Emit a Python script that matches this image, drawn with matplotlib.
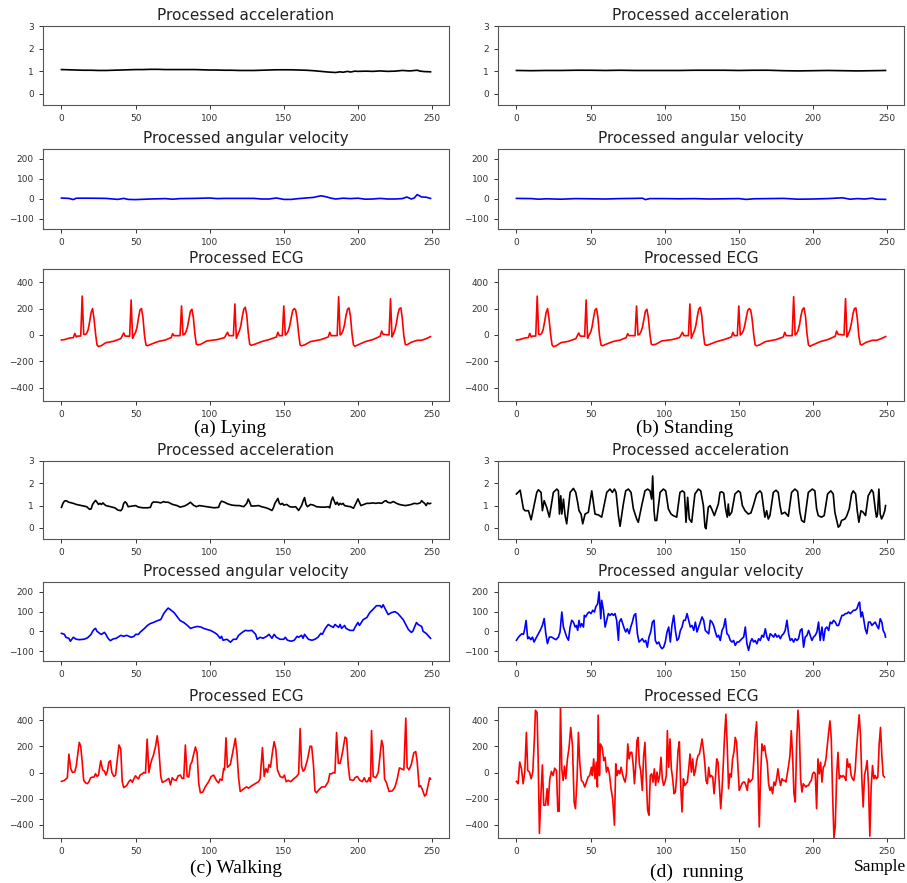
import numpy as np
import matplotlib
matplotlib.use("Agg")
import matplotlib.pyplot as plt

# ---------------- data (sample, value) ----------------
lying_acc = [(0,1.07),(5,1.06),(10,1.05),(15,1.04),(20,1.04),(25,1.03),(30,1.03),(35,1.04),(40,1.05),(45,1.06),
             (50,1.07),(55,1.07),(60,1.08),(65,1.08),(70,1.07),(75,1.07),(80,1.07),(85,1.07),(90,1.07),(95,1.06),
             (100,1.05),(105,1.05),(110,1.04),(115,1.04),(120,1.03),(125,1.03),(130,1.03),(135,1.04),(140,1.05),
             (145,1.06),(150,1.06),(155,1.06),(160,1.05),(165,1.04),(170,1.02),(175,0.99),(180,0.96),(185,0.94),
             (188,0.97),(190,0.95),(193,0.99),(195,0.96),(198,1.0),(200,0.99),(205,1.0),(210,0.99),(215,1.01),
             (220,0.99),(225,1.0),(230,1.03),(235,1.01),(240,1.04),(242,1.0),(245,0.98),(249,0.97)]

lying_gyro = [(0,5),(5,3),(8,-3),(10,4),(20,4),(30,3),(38,-2),(42,3),(45,-2),(50,-3),(60,0),(70,2),(75,-1),(80,2),
              (90,3),(100,5),(105,2),(110,3),(120,3),(130,3),(135,0),(140,0),(145,5),(150,-2),(155,-2),(160,2),
              (165,5),(170,8),(175,16),(178,12),(182,4),(185,0),(190,4),(195,2),(200,4),(205,-1),(210,0),(215,3),
              (220,0),(225,0),(230,2),(233,10),(236,0),(238,5),(240,22),(243,10),(246,9),(249,3)]

rest_ecg = [(0,-38),(2,-35),(4,-28),(6,-22),(8,-20),(9,12),(10,-15),(11,-8),(13,-8),(14,295),(15,5),(16,3),(17,12),
            (18,40),(19,100),(20,170),(21,200),(22,120),(23,10),(24,-75),(25,-88),(27,-80),(30,-58),(35,-48),(40,-28),
            (42,15),(43,-8),(46,-10),(47,265),(48,-25),(49,0),(50,20),(51,60),(52,130),(53,190),(54,200),(55,130),
            (56,0),(57,-75),(58,-82),(60,-72),(65,-50),(70,-38),(74,-20),(75,10),(76,-5),(80,-5),(81,220),(82,0),
            (83,5),(84,25),(85,60),(86,120),(87,180),(88,195),(89,130),(90,10),(91,-70),(92,-75),(94,-70),(98,-45),
            (105,-35),(110,-20),(112,20),(113,-5),(116,-5),(117,235),(118,-25),(119,5),(120,30),(121,70),(122,140),
            (123,195),(124,210),(125,150),(126,20),(127,-70),(128,-78),(130,-72),(135,-50),(140,-35),(145,-15),
            (146,20),(147,-5),(149,-5),(150,220),(151,0),(152,10),(153,30),(154,70),(155,130),(156,185),(157,200),
            (158,190),(159,120),(160,10),(161,-75),(162,-82),(164,-75),(168,-50),(175,-35),(180,-15),(181,20),
            (182,-5),(186,-5),(187,290),(188,0),(189,10),(190,35),(191,80),(192,150),(193,195),(194,205),(195,140),
            (196,10),(197,-75),(198,-85),(200,-75),(205,-50),(210,-35),(215,-10),(216,30),(217,5),(221,0),(222,275),
            (223,-15),(224,10),(225,40),(226,90),(227,160),(228,200),(229,205),(230,120),(231,-10),(232,-72),
            (233,-75),(236,-55),(240,-40),(243,-40),(246,-28),(249,-12)]

stand_acc = [(0,1.03),(10,1.02),(20,1.03),(30,1.03),(40,1.04),(50,1.04),(60,1.03),(70,1.04),(80,1.03),(90,1.03),
             (100,1.03),(110,1.03),(120,1.04),(130,1.04),(140,1.04),(150,1.03),(160,1.04),(170,1.04),(180,1.02),
             (190,1.01),(200,1.02),(210,1.03),(220,1.02),(230,1.01),(240,1.02),(249,1.03)]

stand_gyro = [(0,3),(10,2),(15,-1),(20,1),(30,-1),(40,2),(50,1),(60,0),(70,2),(80,3),(85,4),(87,-3),(90,2),(100,2),
              (110,1),(120,2),(130,0),(140,1),(150,2),(155,-2),(160,1),(170,2),(180,3),(190,-1),(200,0),(210,2),
              (220,6),(225,-1),(230,2),(235,0),(240,4),(243,-1),(249,-2)]

walk_acc = [(0,0.92),(1,1.1),(2,1.2),(3,1.22),(5,1.15),(8,1.1),(10,1.05),(12,1.02),(15,0.98),(17,0.95),(19,0.83),
            (20,0.85),(21,1.05),(22,1.15),(23,1.23),(24,1.15),(25,1.05),(26,1.1),(27,1.05),(28,1.12),(29,1.05),
            (30,1.0),(33,0.95),(36,0.9),(38,0.8),(40,0.77),(41,0.85),(42,1.1),(43,1.17),(44,1.1),(45,0.95),(47,0.97),
            (50,1.0),(52,0.93),(55,0.9),(58,0.9),(60,0.92),(61,1.1),(62,1.16),(65,1.15),(67,1.12),(69,1.18),(70,1.15),
            (72,1.15),(75,1.05),(78,1.0),(80,0.93),(83,0.98),(85,1.05),(87,1.15),(89,1.02),(91,0.95),(93,1.0),
            (95,0.98),(98,0.95),(100,0.93),(103,0.9),(106,0.92),(107,1.1),(108,1.2),(110,1.15),(112,1.08),(115,1.02),
            (118,1.0),(120,1.0),(123,0.95),(125,1.1),(126,1.29),(127,1.15),(128,0.98),(130,0.98),(133,1.0),(135,0.95),
            (138,0.9),(140,0.85),(142,0.78),(143,0.9),(144,1.1),(146,1.32),(147,1.1),(148,1.05),(149,1.1),(150,1.02),
            (152,1.05),(154,0.95),(156,0.93),(158,0.95),(160,0.78),(162,1.0),(163,1.2),(164,1.36),(165,1.05),
            (166,0.95),(168,1.05),(170,1.02),(172,0.95),(175,0.93),(178,0.93),(180,0.95),(181,0.9),(182,1.2),
            (183,1.38),(184,1.2),(185,1.05),(186,1.15),(187,1.02),(188,1.1),(189,1.05),(190,1.1),(191,1.0),
            (193,0.97),(195,0.95),(197,0.88),(199,1.15),(200,1.3),(201,1.15),(202,1.0),(204,1.05),(206,1.1),
            (208,1.1),(210,1.12),(212,1.1),(214,1.12),(216,1.1),(218,1.2),(219,1.22),(220,1.15),(222,1.12),
            (224,1.18),(226,1.1),(228,1.05),(230,1.02),(232,1.0),(234,1.02),(236,1.05),(238,1.1),(240,1.08),
            (242,1.12),(243,1.22),(244,1.15),(245,1.1),(246,1.0),(247,1.12),(248,1.08),(249,1.1)]

walk_gyro = [(0,-10),(2,-15),(3,-30),(5,-35),(6,-50),(7,-40),(8,-30),(9,-35),(10,-40),(12,-42),(15,-40),(17,-35),
             (18,-30),(20,-15),(21,0),(22,10),(23,15),(24,0),(25,-5),(26,-12),(27,-15),(28,-10),(29,-5),(30,-15),
             (31,-30),(32,-40),(33,-47),(35,-38),(37,-35),(40,-20),(42,-25),(44,-20),(47,-30),(49,-25),(50,-15),
             (52,-15),(53,-5),(56,15),(58,30),(60,40),(62,45),(65,55),(67,60),(69,90),(71,110),(72,118),(73.5,110),
             (76,95),(78,75),(80,55),(82.5,45),(85,30),(87,15),(89,20),(91.5,25),(94,22),(96,15),(98,10),(100.5,5),
             (103,-5),(105,-15),(107,-35),(108,-25),(109,-45),(111.7,-40),(114,-55),(116,-40),(118,-40),(119.5,-20),
             (122,-5),(124,5),(126,3),(128.5,5),(131,-15),(132,-40),(134,-30),(136,-35),(138.5,-25),(140,-15),
             (142,-35),(143.5,-15),(145,-30),(147.5,-40),(150,-40),(151,-30),(152.5,-45),(155,-50),(157,-45),
             (159,-25),(160,-30),(162,-20),(163,-35),(164,-15),(166.6,-40),(169,-45),(171,-40),(173,-30),(175,-10),
             (176,-15),(178,15),(180,35),(181,30),(183.4,20),(184.5,35),(187,20),(188,35),(189,15),(191,30),
             (192,15),(194.6,5),(197,5),(198,20),(200,45),(201,30),(203.6,60),(206,70),(208,95),(210,110),
             (212.5,130),(215,130),(216,120),(217,135),(219,105),(220.4,85),(222.6,95),(225,100),(227,90),
             (230.5,60),(234,10),(236,-5),(237,0),(239.5,45),(240.6,35),(243,25),(244,0),(246,-10),(248.4,-30),
             (249,-35)]

walk_ecg = [(0,-68),(2,-60),(4,-40),(5,140),(6.3,30),(7.4,0),(9,5),(10,50),(12,230),(13,200),(14,80),(15,-60),
            (16.4,-80),(17.5,-85),(18.6,-70),(19.7,-40),(21,-35),(22,-35),(23,-10),(24,-30),(25,-20),(26.5,90),
            (27.8,20),(29,10),(30,-20),(31,10),(32,80),(33,90),(34,0),(35.4,-30),(36.5,-20),(37.7,100),(38.8,210),
            (40,180),(41,-70),(42,-115),(44,-100),(45.5,-70),(46.6,-55),(47.8,-75),(49,-45),(50,-25),(51,-40),
            (52,-50),(53,-20),(54.5,-10),(55.6,0),(56.7,-5),(57.8,255),(59,0),(60,60),(61,100),(62,130),(63.5,200),
            (64.6,280),(65.7,180),(67,-30),(68,-75),(70,-65),(72.4,-45),(73.5,-95),(74.7,-40),(75.8,-55),(77.4,-60),
            (78.7,-25),(80.3,-20),(81.4,-45),(82.5,-45),(83.6,210),(84.8,-30),(85.9,-35),(87,60),(88,80),(89.2,140),
            (90.4,195),(91.5,150),(92.6,-80),(93.7,-155),(95.3,-150),(97,-110),(99.3,-70),(101,-30),(102.7,-20),
            (104.5,-60),(106,-80),(107,-50),(108.3,-60),(109.4,30),(110,20),(111,265),(112,40),(113.9,60),
            (115.5,150),(117.3,260),(118.4,150),(119.5,-40),(120.6,-145),(122.4,-130),(124,-115),(125,-110),
            (126.2,-120),(128.5,-100),(130.7,-85),(133,-70),(134,-50),(135.6,190),(136.8,-30),(137.9,30),(139,0),
            (140,60),(141,40),(142.4,160),(143.5,235),(144.6,180),(145.7,20),(147.5,-30),(149.3,-40),(150.4,-20),
            (151.6,-70),(153,-60),(154.7,-70),(156.5,-50),(158.7,-30),(160,-10),(161,335),(162,50),(163,10),
            (164,20),(166,100),(167.7,200),(168.8,200),(170,60),(171,-140),(172,-155),(173.8,-130),(175.6,-110),
            (177.8,-110),(180,-70),(181,-10),(182.3,-10),(183.4,0),(184.5,-5),(185.6,305),(186.8,70),(188,70),
            (189,120),(190,180),(191.3,270),(192.4,260),(193.5,50),(194.6,-55),(197,-60),(198,-40),(199.6,-30),
            (201.3,-60),(203,-70),(204.3,-40),(205.4,-70),(206.5,-70),(207.6,-40),(208.5,-70),(209.2,320),
            (210.3,-30),(212,-40),(213.7,0),(214.8,120),(216,245),(217,200),(218,-50),(219.3,-80),(221,-145),
            (223.3,-140),(225,-110),(226.5,-50),(228,35),(230,25),(231,20),(232.3,415),(233.2,40),(234.5,20),
            (236,60),(237.7,150),(239,160),(240,80),(241.3,-110),(242.2,-100),(243.5,-130),(245,-180),(246,-170),
            (247.3,-100),(248.4,-40),(249,-50)]

run_acc = [(0,1.52),(2.5,1.69),(4.7,0.85),(5.8,0.77),(8.1,0.77),(9.9,0.36),(13.7,1.59),(14.8,1.71),(16.6,1.59),
           (17.5,0.77),(18.7,1.22),(20.4,0.92),(22.2,0.48),(24.9,1.59),(27.2,1.74),(28.3,1.66),(29.0,0.62),
           (29.9,1.44),(30.6,0.62),(31.7,1.29),(32.8,0.55),(33.9,0.18),(36.2,1.59),(38.4,1.77),(40.0,1.59),
           (41.3,1.14),(42.2,0.77),(43.6,0.62),(44.7,0.18),(46.3,0.62),(48.5,0.70),(50.8,1.66),(53.0,0.62),
           (55.3,0.58),(57.5,0.48),(60.9,1.59),(63.1,1.74),(64.7,1.59),(66.1,1.74),(67.2,1.59),(68.8,0.55),
           (69.9,0.07),(72.1,1.07),(73.7,1.66),(75.5,1.74),(77.3,1.59),(78.9,0.85),(81.1,0.40),(82.2,0.25),
           (84.5,1.0),(86.7,1.66),(88.5,1.74),(90.1,1.66),(91.2,1.29),(91.9,2.33),(92.8,0.77),(93.5,0.33),
           (94.6,0.33),(96.9,1.59),(99.1,1.74),(100.7,1.66),(102.5,0.85),(104.3,0.62),(105.8,0.55),(108.1,0.48),
           (110.3,1.59),(111.9,1.66),(113.3,1.59),(114.4,0.25),(115.5,1.37),(116.6,0.40),(118.2,0.25),(120.4,1.52),
           (122.7,1.74),(124.3,1.66),(126.1,1.0),(127.2,0.03),(127.9,-0.04),(129.4,0.92),(130.6,1.0),(131.7,0.85),
           (133.5,0.55),(136.2,1.07),(137.3,1.59),(138.4,1.62),(139.8,1.56),(141.1,0.85),(142.2,0.48),(142.9,1.07),
           (143.6,0.55),(145.2,0.70),(147.4,1.52),(149.7,1.66),(151.0,1.59),(152.4,1.0),(154.2,0.77),(156.4,0.62),
           (158.2,0.67),(159.8,1.0),(162.0,1.52),(164.3,1.66),(165.4,1.56),(166.5,1.0),(167.6,0.48),(168.8,0.77),
           (169.9,0.40),(171.0,0.55),(173.3,1.59),(175.1,1.69),(176.6,1.59),(177.8,1.0),(178.9,0.62),(181.1,0.70),
           (183.4,0.52),(185.6,1.59),(187.9,1.74),(189.7,1.63),(191.2,0.70),(192.4,0.33),(194.2,0.25),(196.9,1.59),
           (199.6,1.74),(201.3,1.66),(202.5,0.85),(203.6,0.55),(205.8,0.48),(207.6,0.55),(209.9,1.52),(212.1,1.66),
           (213.7,1.52),(214.8,0.70),(217.1,0.03),(218.2,0.10),(219.3,0.33),(221.6,0.40),(222.7,0.52),(224.5,0.85),
           (226.1,1.52),(227.2,1.66),(228.8,1.52),(229.9,0.77),(231.0,0.25),(232.4,0.77),(233.9,0.70),(235.5,0.55),
           (237.3,1.44),(239.6,1.71),(240.7,1.59),(242.2,0.77),(242.9,0.48),(243.6,0.62),(244.5,1.74),(245.4,0.62),
           (246.3,0.40),(247.4,0.55),(248.5,0.77),(249.0,1.0)]

run_gyro = [(0.0,-45),(1.3,-30),(2.5,-20),(3.6,-12),(4.7,-15),(5.4,5),(6.5,55),(7.6,-37),(8.5,-29),(9.7,-42),
            (10.8,-29),(11.9,-54),(13.0,-37),(14.2,-20),(16.0,5),(17.5,30),(18.7,65),(19.8,-12),(20.9,-62),
            (22.2,-29),(23.8,-29),(25.4,-37),(26.7,-42),(28.3,-29),(29.4,-3),(30.6,98),(31.7,22),(32.8,-3),
            (33.9,-29),(35.1,-45),(36.2,22),(37.3,56),(38.4,47),(39.6,22),(40.4,30),(41.3,5),(42.2,56),(43.1,22),
            (44.0,39),(45.2,22),(45.8,81),(46.7,73),(47.9,90),(49.0,98),(50.3,90),(51.5,107),(52.6,98),(53.5,124),
            (54.8,140),(55.7,200),(56.9,64),(57.5,157),(58.7,107),(59.8,22),(60.9,56),(62.0,90),(63.1,81),(64.3,90),
            (65.4,81),(66.5,90),(67.6,56),(68.8,-45),(69.4,47),(70.6,64),(71.7,39),(72.8,13),(73.7,-3),(74.8,13),
            (76.0,-12),(77.1,22),(78.2,47),(79.3,81),(80.4,90),(81.6,-12),(82.7,-54),(83.8,-46),(84.9,-37),
            (86.1,-54),(87.2,-46),(88.3,-80),(89.4,-29),(90.6,-3),(91.7,47),(92.8,56),(93.7,-46),(94.8,-63),
            (96.0,-54),(97.1,-76),(98.2,-88),(99.3,-80),(100.4,-54),(101.6,-3),(102.7,22),(103.8,-54),(104.9,30),
            (106.1,81),(107.2,5),(108.3,-46),(109.4,-37),(110.6,5),(111.7,22),(112.8,56),(113.9,56),(115.1,90),
            (116.2,56),(117.3,22),(118.4,30),(119.6,5),(120.7,47),(121.8,-3),(122.9,22),(124.0,47),(125.2,73),
            (126.3,56),(127.4,5),(128.5,-3),(129.7,-12),(130.8,56),(131.9,47),(133.0,30),(134.2,-3),(135.3,-29),
            (136.4,-20),(137.5,-46),(138.7,5),(139.8,22),(140.9,64),(142.0,-12),(143.1,-20),(144.3,-46),
            (145.4,-54),(146.5,-46),(147.6,-71),(148.8,-54),(149.9,-54),(151.0,-46),(152.1,-37),(153.3,-29),
            (154.4,22),(155.5,-63),(156.6,-96),(157.8,-54),(158.9,-37),(160.0,-54),(161.1,-46),(162.2,-63),
            (163.4,-37),(164.5,-46),(165.6,-20),(166.7,-29),(167.9,13),(169.0,-29),(170.1,-46),(171.2,-12),
            (172.4,-20),(173.5,-29),(174.6,-12),(175.7,-29),(176.9,-20),(178.0,-37),(179.1,-20),(180.2,-12),
            (181.3,5),(182.5,56),(183.6,-12),(184.7,-46),(185.8,-37),(187.0,-54),(188.1,-37),(189.2,-46),
            (190.3,-37),(191.5,5),(192.6,13),(193.7,-80),(194.8,-29),(196.0,-20),(197.1,5),(198.2,-20),
            (199.3,-46),(200.4,-29),(201.6,-20),(202.7,-3),(203.8,47),(204.9,-46),(206.1,22),(207.2,-46),
            (208.3,13),(209.4,22),(210.6,5),(211.7,47),(212.8,39),(213.9,56),(215.1,47),(216.2,30),(217.3,30),
            (218.4,56),(219.6,81),(220.7,81),(221.8,90),(222.9,90),(224.0,98),(225.2,90),(226.3,98),(227.4,107),
            (228.5,107),(229.7,115),(230.8,140),(231.5,148),(232.4,73),(233.3,98),(234.2,64),(235.3,13),
            (236.4,-12),(237.5,47),(238.7,47),(239.8,30),(240.9,39),(242.0,47),(243.1,30),(244.3,13),(245.4,64),
            (246.5,47),(247.4,5),(248.5,-12),(249.0,-29)]

run_ecg = [(0,-68),(1.1,-86),(2.2,80),(3.4,28),(4.5,-86),(5.6,3),(6.7,306),(7.6,15),(8.8,3),(9.9,-48),(11.0,3),
           (12.1,256),(12.8,475),(13.9,458),(14.6,129),(15.5,-465),(16.6,-149),(17.5,58),(18.4,-250),(19.6,-250),
           (20.7,-124),(21.3,-250),(22.5,-48),(23.6,8),(24.7,-23),(25.8,33),(27.0,15),(27.9,-296),(28.8,-296),
           (29.7,496),(30.6,28),(31.5,-61),(32.4,48),(33.3,-48),(34.4,104),(35.5,192),(36.6,344),(37.8,205),
           (38.9,-225),(39.8,-276),(40.9,-48),(41.8,306),(42.7,78),(43.8,-61),(44.9,-73),(46.1,-111),(47.2,-73),
           (48.3,-35),(49.4,-23),(50.6,40),(51.2,-23),(52.1,104),(53.0,-48),(53.9,78),(54.6,-111),(55.1,438),
           (56.0,-23),(56.6,218),(57.8,192),(58.9,91),(59.8,116),(60.7,3),(61.6,40),(62.7,-10),(63.8,-124),
           (64.9,-200),(66.1,-402),(67.0,66),(67.9,-23),(68.8,15),(69.7,-10),(70.6,40),(71.5,-10),(72.4,-48),
           (73.3,-73),(74.2,-10),(75.1,218),(76.0,104),(76.9,154),(77.8,154),(78.7,66),(79.6,-86),(80.4,40),
           (81.3,243),(82.0,268),(82.9,66),(83.8,15),(84.9,-137),(85.8,129),(86.7,230),(87.6,-48),(88.5,-288),
           (89.4,-326),(90.3,-23),(91.2,-10),(92.1,-73),(93.0,28),(93.9,-99),(94.8,3),(95.7,-73),(96.6,-23),
           (97.5,116),(98.4,-48),(99.3,-99),(100.2,-73),(101.1,-23),(101.8,319),(102.7,40),(103.6,256),(104.5,28),
           (105.4,-48),(106.3,-162),(107.2,-149),(108.1,-23),(109.0,167),(109.9,235),(110.8,-99),(111.7,-301),
           (112.6,-48),(113.5,-99),(114.4,-86),(115.3,-73),(116.2,28),(117.1,141),(118.0,3),(118.9,104),
           (119.8,-23),(120.7,15),(121.6,91),(122.5,129),(123.4,141),(124.3,192),(125.2,256),(126.1,180),
           (127.0,78),(127.9,-61),(128.8,-86),(129.7,40),(130.6,-35),(131.5,-23),(132.4,-35),(133.3,-162),
           (134.2,-48),(135.1,104),(136.0,78),(136.9,-99),(137.8,-276),(138.7,-124),(139.6,78),(140.4,281),
           (141.3,445),(142.2,205),(143.1,-124),(144.0,-10),(144.9,-35),(145.8,104),(146.7,154),(147.6,268),
           (148.5,230),(149.4,53),(150.3,-137),(151.2,-111),(152.1,-86),(153.0,-73),(153.9,-73),(154.8,-99),
           (155.7,-137),(156.6,-48),(157.5,-73),(158.4,-61),(159.3,-48),(160.2,104),(161.1,281),(162.0,387),
           (162.9,53),(163.8,-415),(164.7,-23),(165.6,218),(166.5,167),(167.4,205),(168.3,129),(169.2,78),
           (170.1,-86),(171.0,-137),(171.9,-111),(172.8,-162),(173.7,-73),(174.6,-99),(175.5,-48),(176.4,28),
           (177.3,-48),(178.2,-99),(179.1,-48),(180.0,-61),(180.9,-61),(181.8,-73),(182.7,-10),(183.6,53),
           (184.5,129),(185.4,319),(186.3,129),(187.2,-162),(188.1,-225),(189.0,205),(189.9,476),(190.8,331),
           (191.7,-48),(192.6,-149),(193.5,-86),(194.4,-99),(195.3,-111),(196.2,-99),(197.1,-99),(198.0,-73),
           (198.9,-61),(199.8,-10),(200.7,3),(201.6,-10),(202.5,-276),(203.4,104),(204.3,-10),(205.2,78),
           (206.1,-73),(207.0,40),(207.9,53),(208.8,104),(209.7,205),(210.6,306),(211.5,394),(212.4,256),
           (213.3,-175),(214.2,-503),(215.1,-402),(216.0,-23),(216.9,154),(217.8,-48),(218.7,-23),(219.6,-35),
           (220.4,-23),(221.3,-35),(222.2,-61),(223.1,104),(224.0,40),(224.9,66),(225.8,-23),(226.7,-48),
           (227.6,-61),(228.5,15),(229.4,180),(230.3,306),(231.2,440),(232.1,281),(233.0,-48),(233.9,-263),
           (234.8,-23),(235.7,28),(236.6,91),(237.5,-99),(238.4,-486),(239.3,-111),(240.2,53),(241.1,-48),
           (242.0,-23),(242.9,-48),(243.8,-35),(244.7,218),(245.6,344),(246.5,129),(247.4,-23),(248.3,-35)]

titles = ["Processed acceleration", "Processed angular velocity", "Processed ECG"]
captions = ["(a) Lying", "(b) Standing", "(c) Walking", "(d)  running"]
xticks = [0, 50, 100, 150, 200, 250]
acc_yticks = [0, 1, 2, 3]
gyro_yticks = [-100, 0, 100, 200]
ecg_yticks = [-400, -200, 0, 200, 400]

# ---------------- layout ----------------
W, H = 907, 883
fig = plt.figure(figsize=(W / 100, H / 100), dpi=100)

col_left = [43, 498]
col_w = 406
rows = [(26, 105), (149, 229), (269, 401), (461, 539), (582, 661), (707, 838)]

def make_ax(col, row):
    top, bot = rows[row]
    return fig.add_axes([col_left[col] / W, 1 - bot / H, col_w / W, (bot - top) / H])

panels = [
    (0, 0, lying_acc, 'k', acc_yticks, (-0.5, 3), titles[0]),
    (0, 1, lying_gyro, 'b', gyro_yticks, (-150, 250), titles[1]),
    (0, 2, rest_ecg, 'r', ecg_yticks, (-500, 500), titles[2]),
    (1, 0, stand_acc, 'k', acc_yticks, (-0.5, 3), titles[0]),
    (1, 1, stand_gyro, 'b', gyro_yticks, (-150, 250), titles[1]),
    (1, 2, rest_ecg, 'r', ecg_yticks, (-500, 500), titles[2]),
    (0, 3, walk_acc, 'k', acc_yticks, (-0.5, 3), titles[0]),
    (0, 4, walk_gyro, 'b', gyro_yticks, (-150, 250), titles[1]),
    (0, 5, walk_ecg, 'r', ecg_yticks, (-500, 500), titles[2]),
    (1, 3, run_acc, 'k', acc_yticks, (-0.5, 3), titles[0]),
    (1, 4, run_gyro, 'b', gyro_yticks, (-150, 250), titles[1]),
    (1, 5, run_ecg, 'r', ecg_yticks, (-500, 500), titles[2]),
]

for col, row, pts, color, yt, ylim, title in panels:
    ax = make_ax(col, row)
    xs, ys = np.array(pts, dtype=float).T
    ax.plot(xs, ys, color=color, lw=1.2)
    ax.set_xlim(-12.45, 261.45)
    ax.set_ylim(*ylim)
    ax.set_xticks(xticks)
    ax.set_yticks(yt)
    ax.tick_params(labelsize=6.5, length=3, width=0.7, colors='#333333')
    for sp in ax.spines.values():
        sp.set_color('#555555')
        sp.set_linewidth(0.8)
    ax.set_title(title, fontsize=11, pad=4, color='#222222')

serif = ['Liberation Serif', 'DejaVu Serif']
fig.text(230 / W, 1 - 428 / H, captions[0], ha='center', va='center', fontsize=14, family=serif)
fig.text(685 / W, 1 - 428 / H, captions[1], ha='center', va='center', fontsize=14, family=serif)
fig.text(236 / W, 1 - 868 / H, captions[2], ha='center', va='center', fontsize=14, family=serif)
fig.text(697 / W, 1 - 872 / H, captions[3], ha='center', va='center', fontsize=14, family=serif)
fig.text(906 / W, 1 - 867 / H, "Sample", ha='right', va='center', fontsize=12.5, family=serif)

fig.savefig("out.png", dpi=100)
